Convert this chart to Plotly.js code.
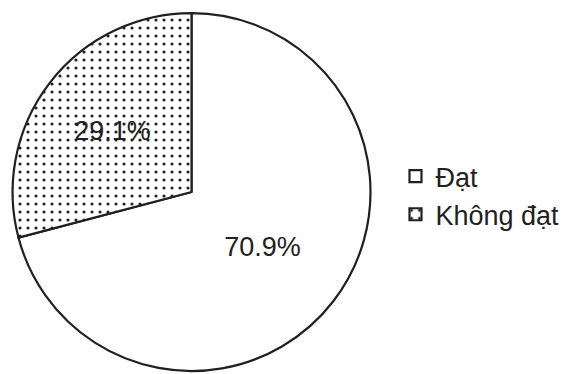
<!DOCTYPE html>
<html><head><meta charset="utf-8">
<script src="https://cdn.plot.ly/plotly-3.0.1.min.js"></script>
<style>body{margin:0;}#c{width:565px;height:374px;}</style>
</head><body><div id="c"></div>
<script>
const labels = ["Đạt", "Không đạt"];
const values = [70.9, 29.1];
const fills = ["", "."];

const trace = {
  type: "pie",
  labels: labels,
  values: values,
  sort: false,
  direction: "clockwise",
  rotation: 0,
  textinfo: "percent",
  texttemplate: "%{value:.1f}%",
  textposition: "inside",
  insidetextorientation: "horizontal",
  textfont: {family: "Liberation Sans, Arial, sans-serif", size: 27, color: "#231f20"},
  marker: {
    colors: ["#ffffff", "#ffffff"],
    line: {color: "#231f20", width: 2.2},
    pattern: {shape: fills, fgcolor: "#231f20", bgcolor: "#ffffff", size: 8, solidity: 0.12}
  },
  domain: {x: [0.019, 0.659], y: [0.008, 0.965]},
  hoverinfo: "none"
};

const layout = {
  width: 565, height: 374,
  margin: {l: 0, r: 0, t: 0, b: 0},
  paper_bgcolor: "#ffffff",
  showlegend: true,
  legend: {
    x: 0.70, y: 0.477, xanchor: "left", yanchor: "middle",
    font: {family: "Liberation Sans, Arial, sans-serif", size: 27, color: "#231f20"},
    itemwidth: 30, tracegroupgap: 0
  }
};
Plotly.newPlot("c", [trace], layout, {staticPlot: true});
</script></body></html>
